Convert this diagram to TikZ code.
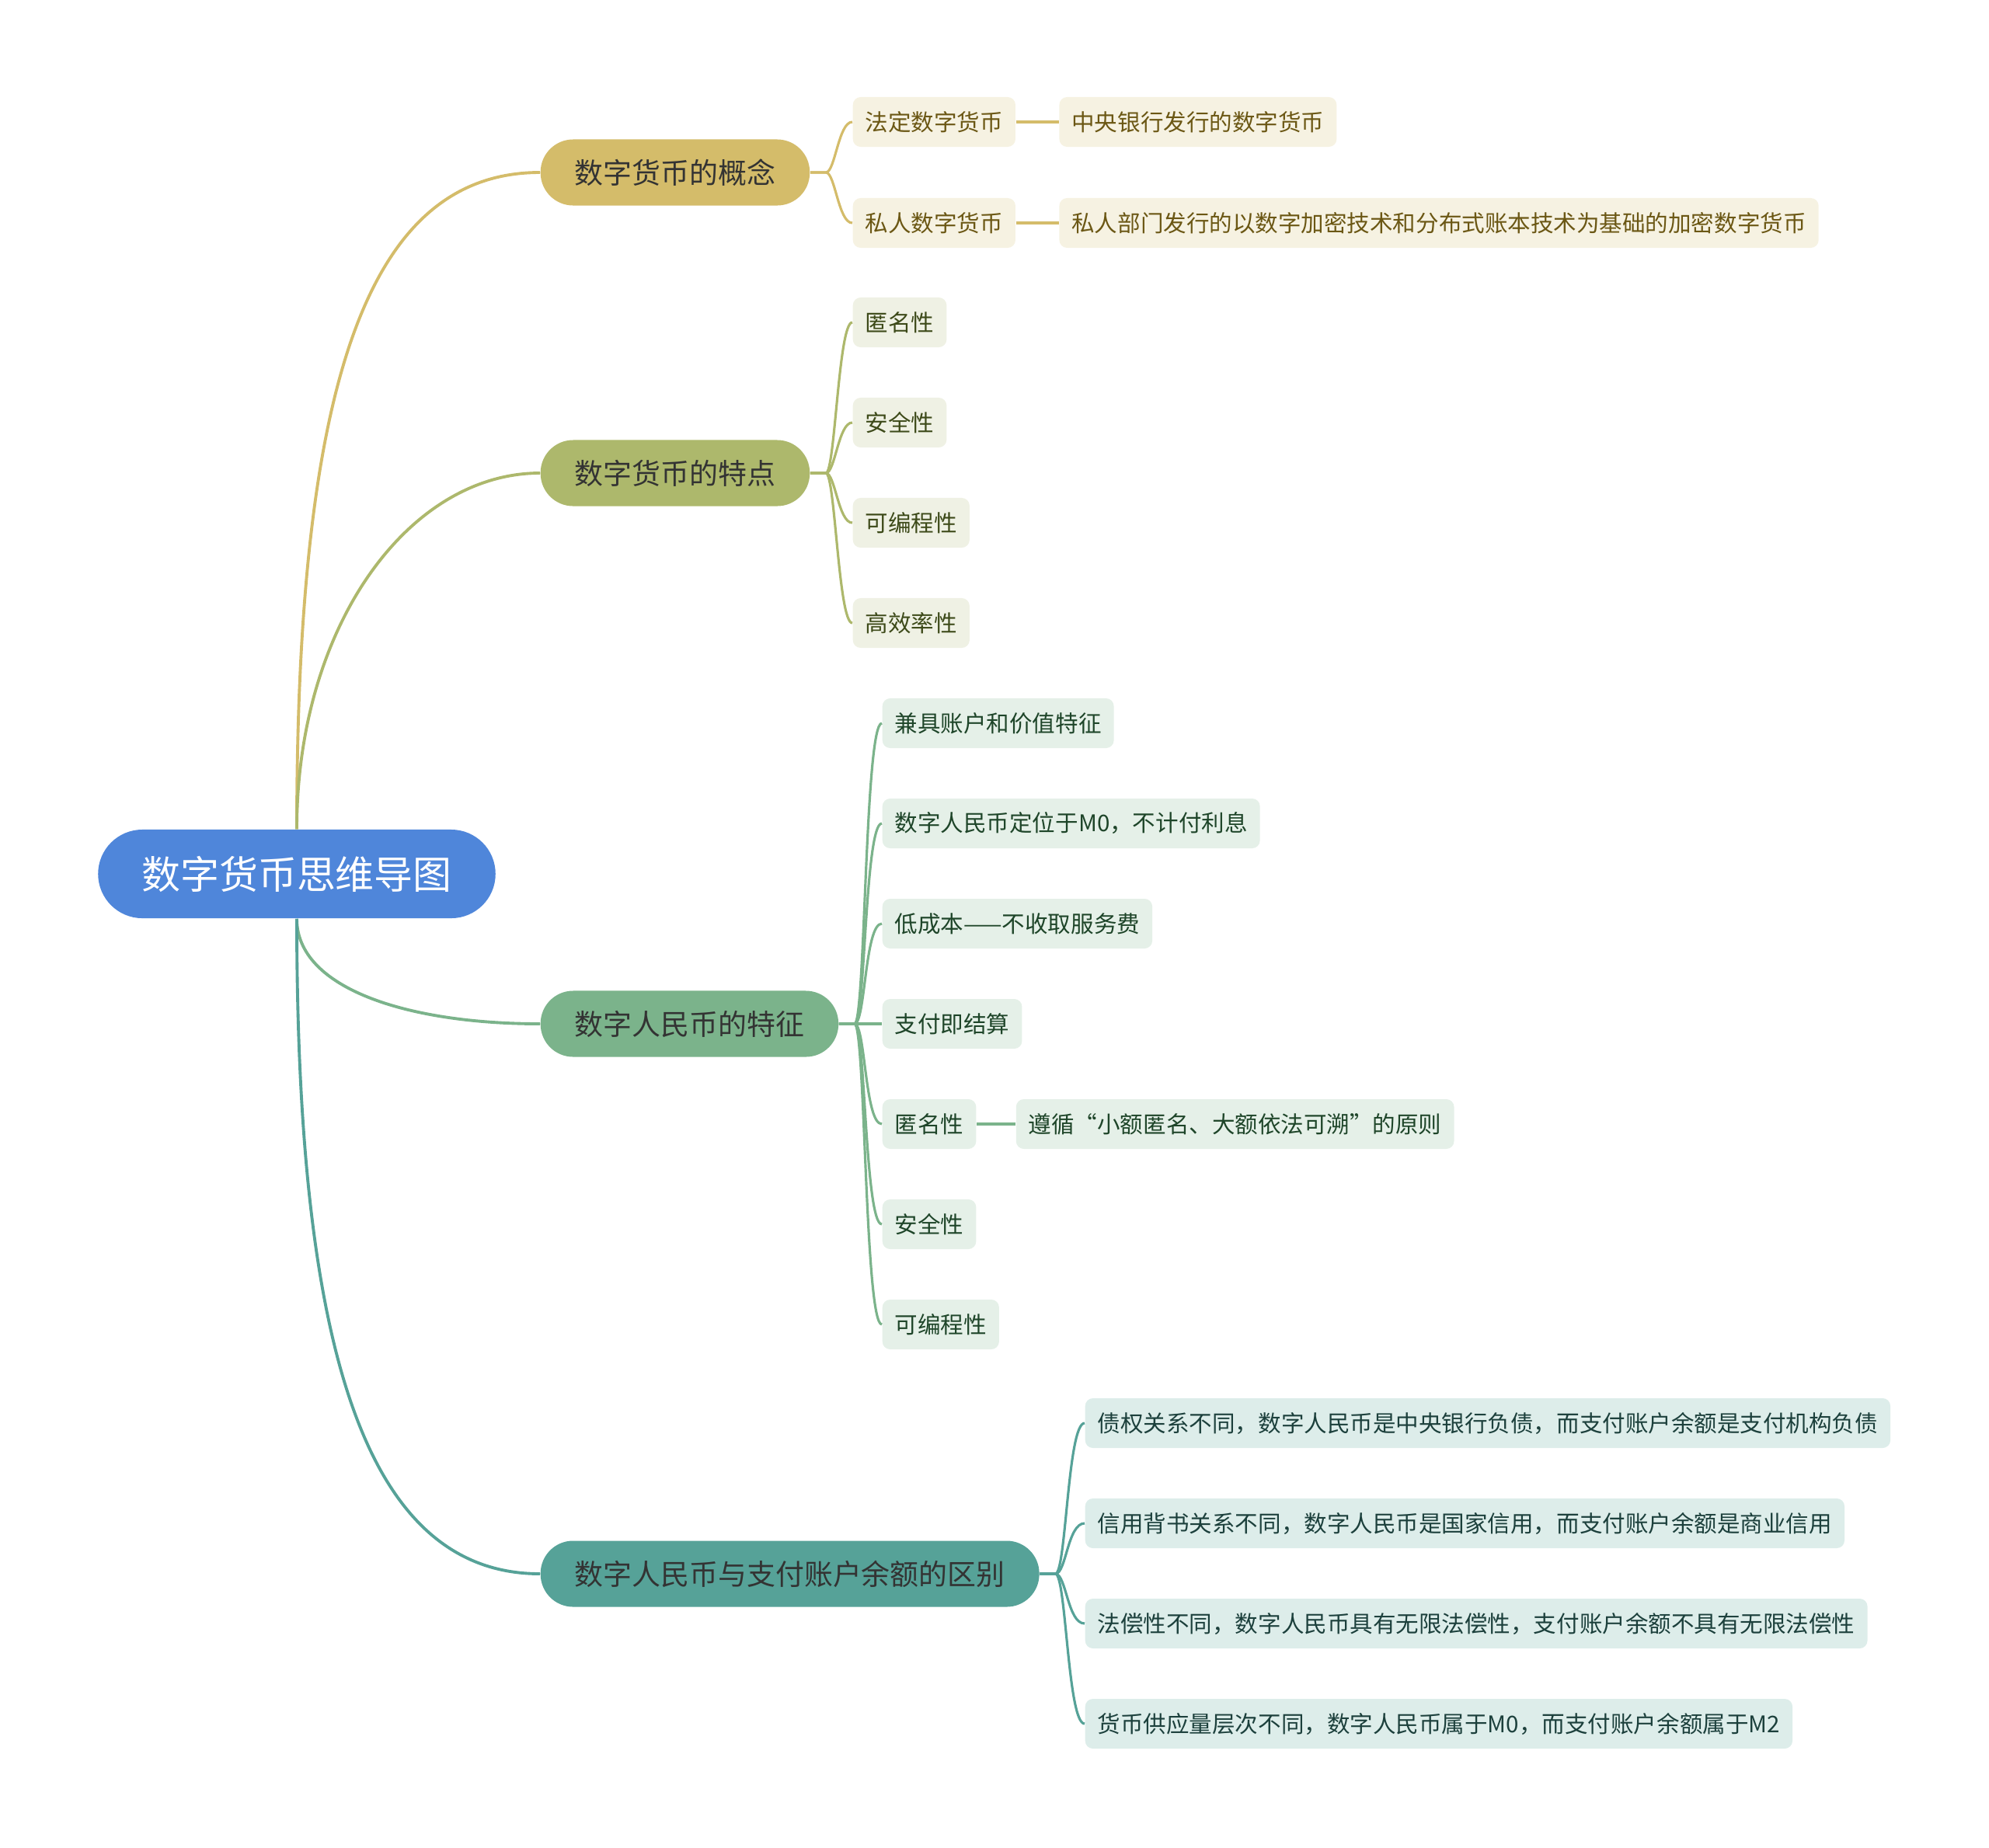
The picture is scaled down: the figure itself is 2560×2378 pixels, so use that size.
\documentclass[tikz,border=0pt]{standalone}
\usepackage{fontspec}
\newfontfamily\cjk{Noto Sans CJK SC}
\usetikzlibrary{positioning}

\definecolor{rootblue}{HTML}{4F86DA}
\definecolor{goldfill}{HTML}{D4BC6A}
\definecolor{goldleaf}{HTML}{F6F2E2}
\definecolor{goldtext}{HTML}{6B5714}
\definecolor{olivefill}{HTML}{ADB86C}
\definecolor{oliveleaf}{HTML}{EFF1E4}
\definecolor{olivetext}{HTML}{3D4A19}
\definecolor{greenfill}{HTML}{7BB38B}
\definecolor{greenleaf}{HTML}{E5F0E8}
\definecolor{greentext}{HTML}{1E4529}
\definecolor{tealfill}{HTML}{56A298}
\definecolor{tealleaf}{HTML}{DDEDEA}
\definecolor{tealtext}{HTML}{1C403C}
\definecolor{topictext}{HTML}{333333}

\begin{document}
\begin{tikzpicture}[x=0.01cm, y=-0.01cm]
	\tikzstyle{rootnode} = [rounded corners=0.57cm, fill=rootblue, text=white, minimum height=1.14cm, inner xsep=0.56cm, font=\cjk\fontsize{14.2pt}{17pt}\selectfont]
	\tikzstyle{topic} = [rounded corners=0.42cm, minimum height=0.85cm, inner xsep=0.44cm, text=topictext, anchor=west, font=\cjk\fontsize{10.5pt}{13pt}\selectfont]
	\tikzstyle{leaf} = [rounded corners=0.1cm, minimum height=0.64cm, inner xsep=0.16cm, anchor=west, font=\cjk\fontsize{8.4pt}{10pt}\selectfont]
	\tikzstyle{link} = [line width=1.1pt]
	\tikzstyle{twig} = [line width=0.9pt]

	\useasboundingbox (0,0) rectangle (2560,2378);

	% Define nodes
	\node[rootnode] (root) at (382,1125) {数字货币思维导图};

	\node[topic, fill=goldfill] (concept) at (695,222) {数字货币的概念};
	\node[topic, fill=olivefill] (trait) at (695,609) {数字货币的特点};
	\node[topic, fill=greenfill] (ecny) at (695,1318) {数字人民币的特征};
	\node[topic, fill=tealfill] (diff) at (695,2026) {数字人民币与支付账户余额的区别};

	% concept leaves
	\node[leaf, fill=goldleaf, text=goldtext] (legal) at (1097,157) {法定数字货币};
	\node[leaf, fill=goldleaf, text=goldtext, right=0.55cm of legal] (legalD) {中央银行发行的数字货币};
	\node[leaf, fill=goldleaf, text=goldtext] (private) at (1097,287) {私人数字货币};
	\node[leaf, fill=goldleaf, text=goldtext, right=0.55cm of private] (privateD) {私人部门发行的以数字加密技术和分布式账本技术为基础的加密数字货币};

	% trait leaves
	\node[leaf, fill=oliveleaf, text=olivetext] (anonA) at (1097,415) {匿名性};
	\node[leaf, fill=oliveleaf, text=olivetext] (safeA) at (1097,544) {安全性};
	\node[leaf, fill=oliveleaf, text=olivetext] (progA) at (1097,673) {可编程性};
	\node[leaf, fill=oliveleaf, text=olivetext] (effA) at (1097,802) {高效率性};

	% ecny leaves
	\node[leaf, fill=greenleaf, text=greentext] (both) at (1135,931) {兼具账户和价值特征};
	\node[leaf, fill=greenleaf, text=greentext] (mzero) at (1135,1060) {数字人民币定位于M0，不计付利息};
	\node[leaf, fill=greenleaf, text=greentext] (cost) at (1135,1189) {低成本——不收取服务费};
	\node[leaf, fill=greenleaf, text=greentext] (settle) at (1135,1318) {支付即结算};
	\node[leaf, fill=greenleaf, text=greentext] (anonB) at (1135,1447) {匿名性};
	\node[leaf, fill=greenleaf, text=greentext, right=0.5cm of anonB] (anonBD) {遵循“小额匿名、大额依法可溯”的原则};
	\node[leaf, fill=greenleaf, text=greentext] (safeB) at (1135,1576) {安全性};
	\node[leaf, fill=greenleaf, text=greentext] (progB) at (1135,1705) {可编程性};

	% diff leaves
	\node[leaf, fill=tealleaf, text=tealtext] (debt) at (1396,1832) {债权关系不同，数字人民币是中央银行负债，而支付账户余额是支付机构负债};
	\node[leaf, fill=tealleaf, text=tealtext] (credit) at (1396,1961) {信用背书关系不同，数字人民币是国家信用，而支付账户余额是商业信用};
	\node[leaf, fill=tealleaf, text=tealtext] (tender) at (1396,2090) {法偿性不同，数字人民币具有无限法偿性，支付账户余额不具有无限法偿性};
	\node[leaf, fill=tealleaf, text=tealtext] (supply) at (1396,2219) {货币供应量层次不同，数字人民币属于M0，而支付账户余额属于M2};

	% Root to topics
	\draw[link, goldfill] (root.north) .. controls +(0,-580) and +(-220,0) .. (concept.west);
	\draw[link, olivefill] (root.north) .. controls +(0,-260) and +(-170,0) .. (trait.west);
	\draw[link, greenfill] (root.south) .. controls +(0,90) and +(-170,0) .. (ecny.west);
	\draw[link, tealfill] (root.south) .. controls +(0,540) and +(-230,0) .. (diff.west);

	% Topics to leaves
	\draw[twig, goldfill] (concept.east) -- ++(20,0) .. controls +(12,0) and +(-18,0) .. (legal.west);
	\draw[twig, goldfill] (concept.east) -- ++(20,0) .. controls +(12,0) and +(-18,0) .. (private.west);
	\draw[twig, goldfill] (legal) -- (legalD);
	\draw[twig, goldfill] (private) -- (privateD);

	\draw[twig, olivefill] (trait.east) -- ++(20,0) .. controls +(12,0) and +(-18,0) .. (anonA.west);
	\draw[twig, olivefill] (trait.east) -- ++(20,0) .. controls +(12,0) and +(-18,0) .. (safeA.west);
	\draw[twig, olivefill] (trait.east) -- ++(20,0) .. controls +(12,0) and +(-18,0) .. (progA.west);
	\draw[twig, olivefill] (trait.east) -- ++(20,0) .. controls +(12,0) and +(-18,0) .. (effA.west);

	\draw[twig, greenfill] (ecny.east) -- ++(20,0) .. controls +(14,0) and +(-22,0) .. (both.west);
	\draw[twig, greenfill] (ecny.east) -- ++(20,0) .. controls +(14,0) and +(-22,0) .. (mzero.west);
	\draw[twig, greenfill] (ecny.east) -- ++(20,0) .. controls +(14,0) and +(-22,0) .. (cost.west);
	\draw[twig, greenfill] (ecny.east) -- (settle.west);
	\draw[twig, greenfill] (ecny.east) -- ++(20,0) .. controls +(14,0) and +(-22,0) .. (anonB.west);
	\draw[twig, greenfill] (ecny.east) -- ++(20,0) .. controls +(14,0) and +(-22,0) .. (safeB.west);
	\draw[twig, greenfill] (ecny.east) -- ++(20,0) .. controls +(14,0) and +(-22,0) .. (progB.west);
	\draw[twig, greenfill] (anonB) -- (anonBD);

	\draw[twig, tealfill] (diff.east) -- ++(20,0) .. controls +(14,0) and +(-22,0) .. (debt.west);
	\draw[twig, tealfill] (diff.east) -- ++(20,0) .. controls +(14,0) and +(-22,0) .. (credit.west);
	\draw[twig, tealfill] (diff.east) -- ++(20,0) .. controls +(14,0) and +(-22,0) .. (tender.west);
	\draw[twig, tealfill] (diff.east) -- ++(20,0) .. controls +(14,0) and +(-22,0) .. (supply.west);

\end{tikzpicture}
\end{document}
